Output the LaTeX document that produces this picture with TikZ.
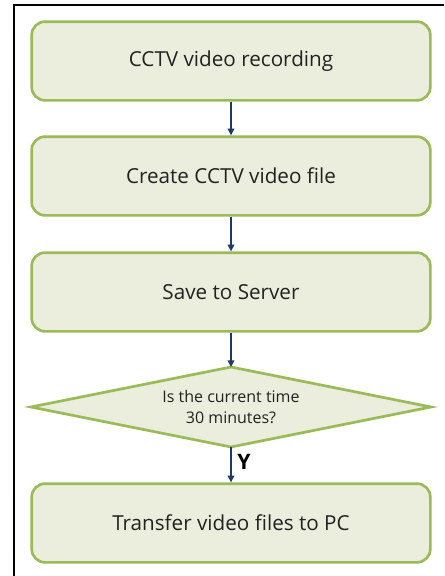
\documentclass[tikz,border=0pt]{standalone}
\usepackage{fontspec}
\setmainfont{Open Sans}
\usetikzlibrary{shapes.geometric,arrows.meta}
\definecolor{boxfill}{HTML}{EBEEDD}
\definecolor{boxline}{HTML}{9BBB59}
\definecolor{arrowc}{HTML}{1F3864}
\definecolor{txt}{HTML}{222222}
\tikzset{
  procbox/.style={draw=boxline, fill=boxfill, line width=2pt, rounded corners=10pt,
    minimum width=299pt, minimum height=59pt, inner sep=0pt, text=txt, font=\fontsize{15.5}{18}\selectfont},
  flow/.style={draw=arrowc, line width=1pt, -{Triangle[length=5pt,width=5pt]}}
}
\begin{document}
\begin{tikzpicture}[x=0.75pt,y=-0.75pt]
\useasboundingbox (0,0) rectangle (444,576);
\fill[white] (0,0) rectangle (444,576);
\draw[line width=0.8pt] (14,576) -- (14,5) -- (444,5);
\node[procbox] (a) at (231,61) {CCTV video recording};
\node[procbox] (b) at (231,176) {Create CCTV video file};
\node[procbox] (c) at (231,292) {Save to Server};
\draw[boxline, fill=boxfill, line width=2pt, line join=miter]
  (31,407) -- (231,367) -- (431,407) -- (231,447) -- cycle;
\node[text=txt, align=center, font=\fontsize{12}{16}\selectfont] (d) at (231,407) {Is the current time\\30 minutes?};
\node[procbox] (e) at (231,523) {Transfer video files to PC};
\coordinate (dtop) at (231,367);
\coordinate (dbot) at (231,447);
\draw[flow] (a) -- (b);
\draw[flow] (b) -- (c);
\draw[flow] (c) -- (dtop);
\draw[flow] (dbot) -- node[right, font=\fontsize{16}{18}\selectfont\bfseries, text=black, xshift=1pt, yshift=2pt] (y) {Y} (e);
\end{tikzpicture}
\end{document}
